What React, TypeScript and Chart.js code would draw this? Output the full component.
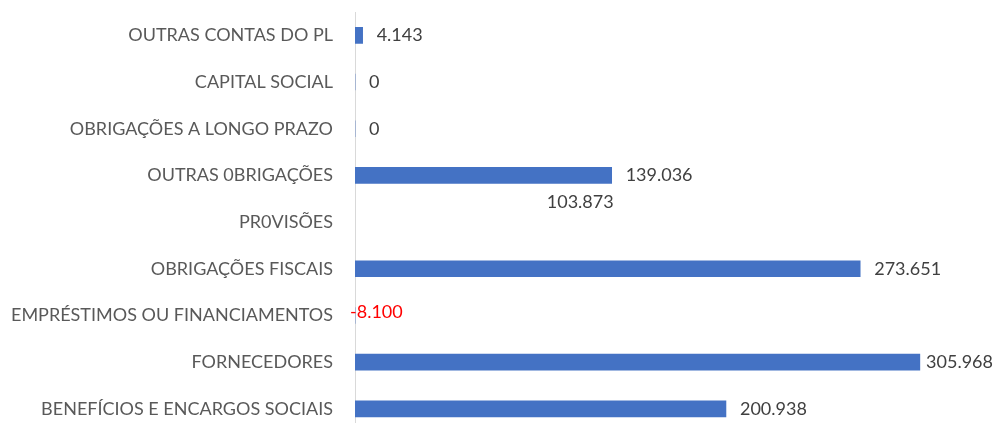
import React, { useEffect, useRef } from "react";
import { Chart, registerables } from "chart.js";

Chart.register(...registerables);

const categories = [
  "OUTRAS CONTAS DO PL",
  "CAPITAL SOCIAL",
  "OBRIGAÇÕES A LONGO PRAZO",
  "OUTRAS 0BRIGAÇÕES",
  "PR0VISÕES",
  "OBRIGAÇÕES FISCAIS",
  "EMPRÉSTIMOS OU FINANCIAMENTOS",
  "FORNECEDORES",
  "BENEFÍCIOS E ENCARGOS SOCIAIS",
];
const values = [4143, 0, 0, 139036, 103873, 273651, -8100, 305968, 200938];
const hiddenBarCategories = ["PR0VISÕES"];

const FONT = "Lato, 'Open Sans', sans-serif";
const BAR = "#4472C4";
const W = 998;
const H = 443;

function fmt(v: number): string {
  const neg = v < 0;
  const s = Math.abs(Math.round(v)).toString().replace(/\B(?=(\d{3})+(?!\d))/g, ".");
  return (neg ? "-" : "") + s;
}

const labelPlugin = {
  id: "barLabels",
  afterDatasetsDraw(chart: any) {
    const ctx = chart.ctx;
    const xs = chart.scales.x;
    const meta = chart.getDatasetMeta(0);
    ctx.save();
    ctx.font = `18px ${FONT}`;
    ctx.textBaseline = "middle";
    ctx.textAlign = "left";
    meta.data.forEach((el: any, i: number) => {
      const v = values[i];
      const text = fmt(v);
      let x = xs.getPixelForValue(Math.max(v, 0)) + 14;
      let y = el.y;
      ctx.fillStyle = "#404040";
      if (v < 0) {
        x = xs.getPixelForValue(0) - 5;
        y = el.y - 3;
        ctx.fillStyle = "#FF0000";
      } else if (hiddenBarCategories.includes(categories[i])) {
        x = xs.getPixelForValue(v);
        y = el.y - 20;
      }
      const tw = ctx.measureText(text).width;
      x = Math.min(x, chart.width - 5 - tw);
      ctx.fillText(text, x, y);
    });
    ctx.restore();
  },
};

export default function App() {
  const ref = useRef<HTMLCanvasElement | null>(null);
  useEffect(() => {
    document.body.style.margin = "0";
    document.body.style.overflow = "hidden";
    if (!ref.current) return;
    const chart = new Chart(ref.current, {
      type: "bar",
      data: {
        labels: categories,
        datasets: [
          {
            data: values,
            backgroundColor: categories.map((c) =>
              hiddenBarCategories.includes(c) ? "rgba(0,0,0,0)" : BAR
            ),
            borderWidth: 0,
            barThickness: 16,
          },
        ],
      },
      options: {
        indexAxis: "y",
        animation: false,
        responsive: false,
        maintainAspectRatio: false,
        devicePixelRatio: 1,
        layout: { padding: { top: 12, right: 0, bottom: 0, left: 0 } },
        plugins: {
          legend: { display: false },
          tooltip: { enabled: false },
        },
        scales: {
          x: { display: false, min: 0, max: 348300 },
          y: {
            grid: {
              display: true,
              drawOnChartArea: false,
              drawTicks: true,
              tickLength: 22,
              color: "rgba(0,0,0,0)",
            },
            border: { display: true, color: "#d9d9d9", width: 1 },
            ticks: {
              color: "#595959",
              font: { family: FONT, size: 18 },
              padding: 0,
            },
            afterFit: (s: any) => {
              s.width = 355;
            },
          },
        },
      },
      plugins: [labelPlugin],
    });
    return () => chart.destroy();
  }, []);
  return (
    <div style={{ width: W, height: H }}>
      <canvas ref={ref} width={W} height={H} style={{ display: "block" }} />
    </div>
  );
}
